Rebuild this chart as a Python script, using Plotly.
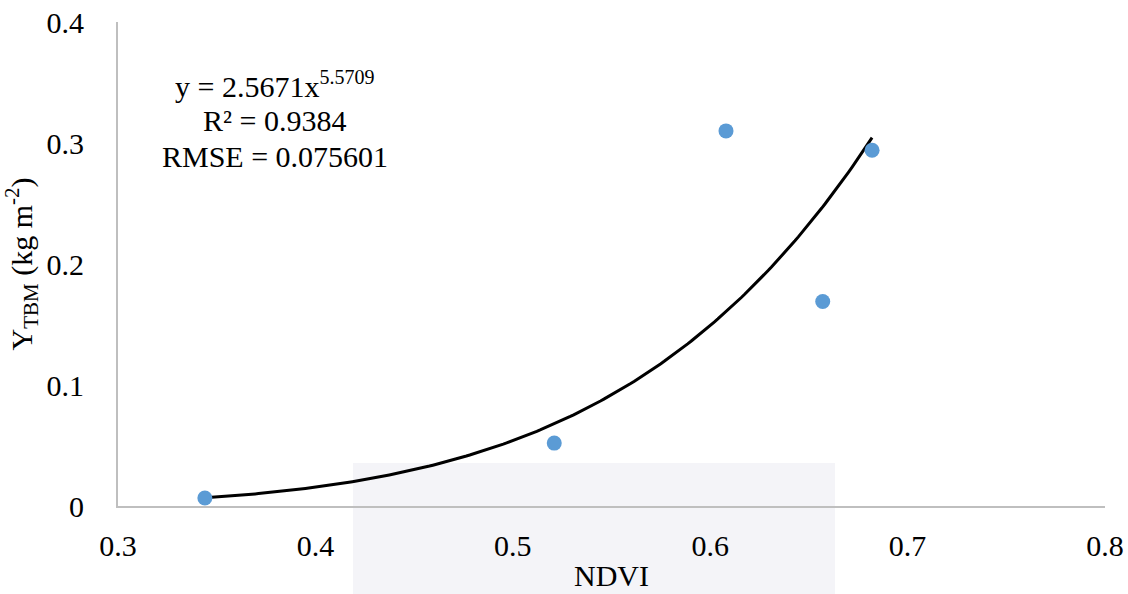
import numpy as np
import plotly.graph_objects as go

# Observed NDVI vs total biomass
ndvi = [0.344, 0.521, 0.608, 0.657, 0.682]
ytbm = [0.0066, 0.052, 0.310, 0.169, 0.294]

# Power-law fit y = a * x^b
fit_a = 2.5671
fit_b = 5.5709
fit_r2 = 0.9384
fit_rmse = 0.075601

x_ticks = [0.3, 0.4, 0.5, 0.6, 0.7, 0.8]
y_ticks = [0, 0.1, 0.2, 0.3, 0.4]

xf = np.linspace(min(ndvi), max(ndvi), 200)
yf = fit_a * xf ** fit_b

font_family = "Liberation Serif"
fs = 30

fig = go.Figure()
fig.add_trace(go.Scatter(
    x=xf, y=yf, mode="lines",
    line=dict(color="black", width=3),
    hoverinfo="skip", showlegend=False,
))
fig.add_trace(go.Scatter(
    x=ndvi, y=ytbm, mode="markers",
    marker=dict(color="#5b9bd5", size=15),
    showlegend=False,
))

# faint background band near the lower centre
fig.add_shape(
    type="rect", xref="paper", yref="paper",
    x0=(353 - 118) / 987, x1=(835 - 118) / 987,
    y0=-88 / 484, y1=(506 - 463) / 484,
    fillcolor="#f4f4f8", line=dict(width=0), layer="below",
)

# fit equation and statistics, one line per annotation
eq_lines = [
    (f"y = {fit_a}x<sup><span style='font-size:20px'>{fit_b}</span></sup>", 0.3480),
    (f"R² = {fit_r2}", 0.3185),
    (f"RMSE = {fit_rmse}", 0.2890),
]
for txt, ypos in eq_lines:
    fig.add_annotation(
        x=0.3795, y=ypos, xref="x", yref="y",
        text=txt, showarrow=False, align="center",
        xanchor="center", yanchor="middle",
        font=dict(family=font_family, size=fs, color="black"),
    )

fig.update_layout(
    width=1128, height=594,
    margin=dict(l=118, r=23, t=22, b=88, autoexpand=False),
    paper_bgcolor="white", plot_bgcolor="rgba(0,0,0,0)",
    font=dict(family=font_family, size=fs, color="black"),
)
fig.update_xaxes(
    range=[0.3, 0.8], tickvals=x_ticks,
    ticktext=[f"{v:g}" for v in x_ticks],
    tickfont=dict(family=font_family, size=fs),
    showgrid=False, zeroline=False, automargin=False,
    showline=True, linecolor="#bfbfbf", linewidth=2,
    ticks="", ticklabelstandoff=12,
    title=dict(text="NDVI", standoff=4, font=dict(family=font_family, size=fs)),
)
fig.update_yaxes(
    range=[0, 0.4], tickvals=y_ticks,
    ticktext=[f"{v:g}" for v in y_ticks],
    tickfont=dict(family=font_family, size=fs),
    showgrid=False, zeroline=False, automargin=False,
    showline=True, linecolor="#bfbfbf", linewidth=2,
    ticks="", ticklabelstandoff=26,
    title=dict(text="Y<sub>TBM</sub> (kg m<sup>-2</sup>)", standoff=8,
               font=dict(family=font_family, size=fs)),
)

fig.write_html("out.html")
